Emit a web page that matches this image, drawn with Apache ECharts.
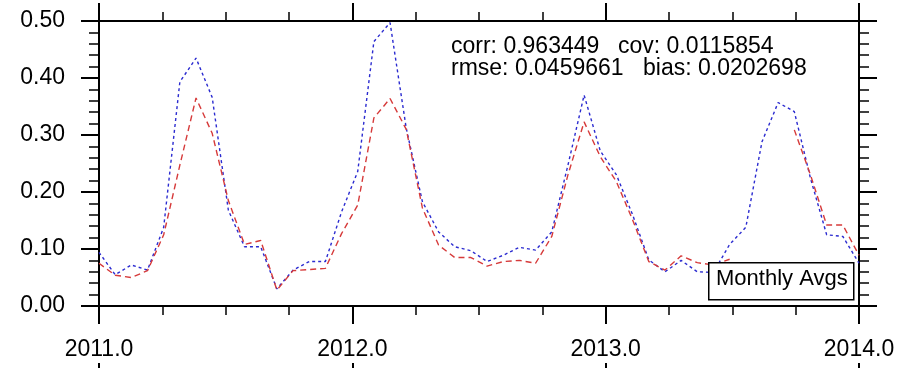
<!DOCTYPE html>
<html>
<head>
<meta charset="utf-8">
<script src="https://cdn.jsdelivr.net/npm/echarts@6/dist/echarts.min.js"></script>
<style>
  html, body { margin: 0; padding: 0; background: #fff; }
  #chart { width: 904px; height: 368px; }
</style>
</head>
<body>
<div id="chart"></div>
<script>
// 48 time steps spread evenly over 2011.0 - 2014.0
var steps = ['1','2','3','4','5','6','7','8','9','10','11','12','13','14','15','16',
  '17','18','19','20','21','22','23','24','25','26','27','28','29','30','31','32',
  '33','34','35','36','37','38','39','40','41','42','43','44','45','46','47','48'];

// blue (short dashes)
var blueVals = [0.094, 0.055, 0.072, 0.063, 0.138, 0.393, 0.435, 0.366,
  0.168, 0.104, 0.104, 0.030, 0.063, 0.078, 0.078, 0.165,
  0.236, 0.464, 0.497, 0.312, 0.183, 0.130, 0.104, 0.097,
  0.078, 0.089, 0.103, 0.098, 0.130, 0.247, 0.370, 0.272,
  0.230, 0.160, 0.081, 0.060, 0.080, 0.060, 0.059, 0.108,
  0.138, 0.288, 0.357, 0.341, 0.224, 0.125, 0.122, 0.075];

// red (longer dashes), gap where nothing was drawn
var redVals = [0.075, 0.054, 0.050, 0.062, 0.125, 0.247, 0.365, 0.303,
  0.185, 0.108, 0.115, 0.028, 0.062, 0.064, 0.066, 0.127,
  0.177, 0.330, 0.364, 0.310, 0.172, 0.107, 0.085, 0.085,
  0.070, 0.078, 0.080, 0.075, 0.122, 0.230, 0.323, 0.262,
  0.218, 0.151, 0.078, 0.063, 0.088, 0.076, 0.072, 0.082,
  null, null, null, 0.309, 0.230, 0.142, 0.142, 0.089];

var statsLine1 = ['corr: 0.963449', 'cov: 0.0115854'];
var statsLine2 = ['rmse: 0.0459661', 'bias: 0.0202698'];
var boxLabel = 'Monthly Avgs';

var FONT = '"Liberation Sans", Arial, Helvetica, sans-serif';

var chart = echarts.init(document.getElementById('chart'), null, { renderer: 'canvas' });

function frameAxis(extra) {
  var base = {
    axisLine: { show: true, onZero: false, lineStyle: { color: '#000', width: 2 } },
    axisTick: { show: true, inside: false, length: 18, lineStyle: { color: '#000', width: 2 } },
    minorTick: { show: true, length: 9, lineStyle: { color: '#000', width: 1.5 } },
    splitLine: { show: false },
    minorSplitLine: { show: false }
  };
  return Object.assign(base, extra);
}

var option = {
  animation: false,
  backgroundColor: '#fff',
  grid: [
    { left: 99, top: 21, width: 760, height: 285, containLabel: false, outerBoundsMode: 'none' },
    { left: 99, top: 381, width: 760, height: 200, containLabel: false, outerBoundsMode: 'none' }
  ],
  xAxis: [
    frameAxis({
      type: 'value', gridIndex: 0, position: 'bottom', min: 2011, max: 2014, interval: 1,
      minorTick: { show: true, splitNumber: 4, length: 9, lineStyle: { color: '#000', width: 1.5 } },
      axisLabel: {
        show: true, margin: 32, color: '#000', fontSize: 23, fontFamily: FONT,
        formatter: function (v) { return v.toFixed(1); }
      }
    }),
    frameAxis({
      type: 'value', gridIndex: 0, position: 'top', min: 2011, max: 2014, interval: 1,
      minorTick: { show: true, splitNumber: 4, length: 9, lineStyle: { color: '#000', width: 1.5 } },
      axisLabel: { show: false }
    }),
    {
      type: 'category', gridIndex: 0, data: steps, boundaryGap: false, show: false
    },
    // top frame of the panel below, only its ticks peek in
    frameAxis({
      type: 'value', gridIndex: 1, position: 'top', min: 2011, max: 2014, interval: 1,
      minorTick: { show: true, splitNumber: 4, length: 9, lineStyle: { color: '#000', width: 1.5 } },
      axisLabel: { show: false }
    })
  ],
  yAxis: [
    frameAxis({
      type: 'value', gridIndex: 0, position: 'left', min: 0, max: 0.5, interval: 0.1,
      minorTick: { show: true, splitNumber: 5, length: 10, lineStyle: { color: '#000', width: 1.5 } },
      axisLabel: {
        show: true, margin: 34, color: '#000', fontSize: 23, fontFamily: FONT,
        formatter: function (v) { return v.toFixed(2); }
      }
    }),
    frameAxis({
      type: 'value', gridIndex: 0, position: 'right', min: 0, max: 0.5, interval: 0.1,
      minorTick: { show: true, splitNumber: 5, length: 10, lineStyle: { color: '#000', width: 1.5 } },
      axisLabel: { show: false }
    }),
    { type: 'value', gridIndex: 1, show: false, min: 0, max: 1 }
  ],
  series: [
    {
      name: 'blue', type: 'line', xAxisIndex: 2, yAxisIndex: 0,
      data: blueVals, showSymbol: false, symbol: 'none',
      lineStyle: { color: '#2b2bd0', width: 1.4, type: [3, 3] },
      z: 2
    },
    {
      name: 'red', type: 'line', xAxisIndex: 2, yAxisIndex: 0,
      data: redVals, showSymbol: false, symbol: 'none', connectNulls: false,
      lineStyle: { color: '#d63a3a', width: 1.4, type: [6, 4] },
      z: 3
    }
  ],
  graphic: [
    { type: 'text', left: 451, top: 35, z: 10,
      style: { text: statsLine1[0], font: '23px ' + FONT, fill: '#000' } },
    { type: 'text', left: 618, top: 35, z: 10,
      style: { text: statsLine1[1], font: '23px ' + FONT, fill: '#000' } },
    { type: 'text', left: 451, top: 57, z: 10,
      style: { text: statsLine2[0], font: '23px ' + FONT, fill: '#000' } },
    { type: 'text', left: 643, top: 57, z: 10,
      style: { text: statsLine2[1], font: '23px ' + FONT, fill: '#000' } },
    { type: 'rect', left: 708, top: 262, z: 10,
      shape: { width: 145, height: 37 },
      style: { fill: '#fff', stroke: '#000', lineWidth: 1.5 } },
    { type: 'text', left: 716, top: 268, z: 11,
      style: { text: boxLabel, font: '22px ' + FONT, fill: '#000' } }
  ]
};

chart.setOption(option);
</script>
</body>
</html>
